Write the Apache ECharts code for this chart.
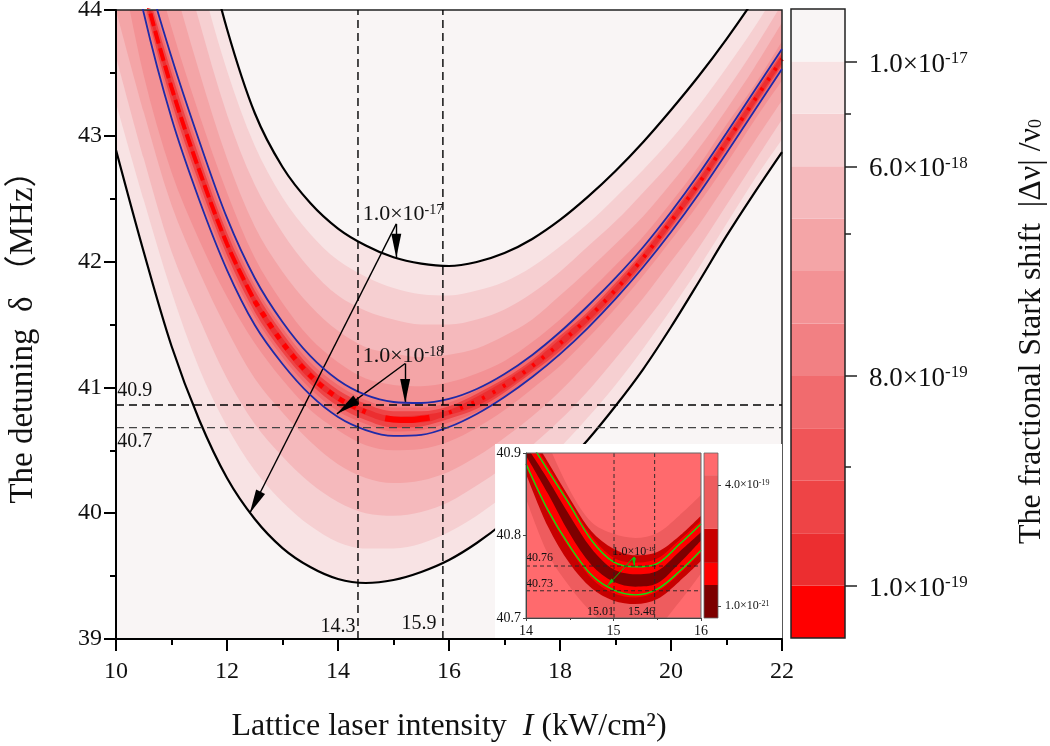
<!DOCTYPE html>
<html>
<head>
<meta charset="utf-8">
<style>html,body{margin:0;padding:0;background:#fff}#chart{width:1050px;height:746px}</style>
<script src="https://cdn.jsdelivr.net/npm/echarts@6/dist/echarts.min.js"></script>
</head>
<body>
<div id="chart"></div>
<script>
// main contour, values (lattice intensity vs detuning)
var intensity = [10,10.5,11,11.5,12,12.5,13,13.5,14,14.5,15,15.5,16,16.5,17,17.5,18,18.5,19,19.5,20,20.5,21,21.5,22];
var upper1 = [47.975,46.703,45.590,44.707,43.849,43.181,42.752,42.466,42.263,42.128,42.034,41.984,41.965,41.997,42.068,42.180,42.331,42.514,42.720,42.951,43.205,43.475,43.769,44.087,44.437];
var upper2 = [47.38,46.19,45.16,44.29,43.52,42.92,42.51,42.22,42.01,41.88,41.79,41.74,41.73,41.77,41.84,41.96,42.12,42.30,42.51,42.73,42.97,43.24,43.54,43.86,44.21];
var upper3 = [46.78,45.69,44.72,43.91,43.17,42.61,42.23,41.94,41.73,41.61,41.54,41.50,41.50,41.54,41.62,41.75,41.92,42.12,42.32,42.55,42.79,43.06,43.36,43.69,44.05];
var upper4 = [46.16,45.15,44.28,43.51,42.82,42.28,41.92,41.65,41.45,41.32,41.27,41.24,41.26,41.31,41.41,41.54,41.73,41.93,42.14,42.36,42.62,42.90,43.21,43.54,43.90];
var upper5 = [45.60,44.67,43.86,43.17,42.55,42.03,41.67,41.39,41.20,41.07,41.02,41.01,41.04,41.11,41.21,41.36,41.54,41.75,41.97,42.20,42.47,42.76,43.09,43.40,43.75];
var upperBlue = [45.431,44.390,43.626,42.959,42.347,41.870,41.520,41.250,41.059,40.940,40.884,40.876,40.908,40.987,41.106,41.258,41.440,41.647,41.870,42.116,42.394,42.696,43.022,43.356,43.690];
var innerUpA = [45.37,44.33,43.56,42.89,42.29,41.81,41.47,41.20,41.02,40.90,40.84,40.84,40.88,40.975,41.10,41.25,41.435,41.63,41.85,42.10,42.39,42.69,43.02,43.35,43.68];
var innerUpB = [45.32,44.28,43.50,42.83,42.23,41.77,41.43,41.16,40.98,40.87,40.81,40.81,40.85,40.95,41.07,41.22,41.41,41.60,41.83,42.08,42.37,42.67,43.00,43.33,43.66];
var innerUpD = [45.27,44.23,43.43,42.77,42.18,41.72,41.39,41.13,40.94,40.83,40.77,40.78,40.82,40.925,41.05,41.20,41.385,41.58,41.805,42.06,42.35,42.65,42.98,43.31,43.64];
var centerLine = [45.23,44.185,43.385,42.725,42.14,41.685,41.355,41.095,40.915,40.805,40.745,40.75,40.80,40.89,41.015,41.17,41.35,41.55,41.775,42.03,42.32,42.62,42.95,43.28,43.61];
var innerLowD = [45.19,44.14,43.34,42.68,42.10,41.65,41.32,41.06,40.89,40.78,40.72,40.72,40.78,40.855,40.98,41.14,41.315,41.52,41.745,42.00,42.29,42.59,42.92,43.25,43.58];
var innerLowB = [45.14,44.09,43.27,42.62,42.05,41.60,41.28,41.03,40.85,40.74,40.68,40.69,40.75,40.83,40.96,41.12,41.29,41.50,41.72,41.98,42.27,42.57,42.90,43.23,43.56];
var innerLowA = [45.09,44.04,43.21,42.56,41.99,41.56,41.24,40.99,40.81,40.71,40.65,40.66,40.72,40.805,40.93,41.09,41.265,41.47,41.70,41.96,42.25,42.55,42.88,43.21,43.54];
var lowerBlue = [45.033,43.976,43.141,42.490,41.933,41.496,41.186,40.940,40.765,40.661,40.614,40.622,40.685,40.789,40.924,41.083,41.265,41.472,41.703,41.957,42.235,42.537,42.863,43.197,43.531];
var lower5 = [44.56,43.48,42.71,42.17,41.72,41.35,41.06,40.82,40.66,40.54,40.50,40.51,40.57,40.68,40.82,40.99,41.17,41.39,41.63,41.89,42.17,42.46,42.78,43.12,43.44];
var lower4 = [44.00,43.19,42.45,41.92,41.46,41.07,40.80,40.57,40.39,40.28,40.24,40.26,40.33,40.45,40.60,40.77,40.97,41.20,41.45,41.71,42.00,42.29,42.62,42.95,43.28];
var lower3 = [43.63,42.82,42.08,41.55,41.07,40.71,40.45,40.24,40.09,40.00,39.98,40.01,40.09,40.22,40.37,40.54,40.74,40.97,41.23,41.50,41.79,42.11,42.45,42.79,43.13];
var lower2 = [43.26,42.49,41.76,41.15,40.69,40.34,40.09,39.90,39.77,39.72,39.72,39.76,39.85,39.98,40.14,40.31,40.52,40.76,41.02,41.31,41.62,41.95,42.30,42.65,42.97];
var lower1 = [42.887,42.076,41.329,40.741,40.280,39.954,39.723,39.572,39.477,39.445,39.469,39.533,39.628,39.763,39.930,40.129,40.343,40.582,40.852,41.146,41.480,41.838,42.204,42.545,42.871];
var blobX = [14.85,15,15.25,15.5,15.65];
var blobY = [40.755,40.745,40.74,40.75,40.76];

// inset contour
var insetX = [14,14.25,14.5,14.75,15,15.25,15.5,15.75,16];
var insetOuterUp = [40.968,40.911,40.855,40.816,40.802,40.797,40.803,40.824,40.849];
var insetDarkUp = [40.934,40.889,40.845,40.805,40.784,40.776,40.780,40.799,40.824];
var insetRedUp = [40.926,40.884,40.841,40.799,40.773,40.767,40.772,40.794,40.818];
var insetGreenUp = [40.921,40.879,40.837,40.794,40.768,40.762,40.766,40.789,40.814];
var insetCoreUp = [40.909,40.868,40.824,40.784,40.759,40.753,40.757,40.780,40.804];
var insetCoreLow = [40.897,40.851,40.802,40.764,40.744,40.738,40.742,40.766,40.794];
var insetGreenLow = [40.887,40.831,40.787,40.752,40.734,40.728,40.735,40.756,40.782];
var insetRedLow = [40.884,40.828,40.784,40.748,40.730,40.725,40.732,40.753,40.779];
var insetDarkLow = [40.875,40.811,40.766,40.736,40.721,40.717,40.723,40.744,40.769];
var insetOuterLow = [40.845,40.778,40.738,40.707,40.687,40.679,40.689,40.719,40.754];

// reference lines
var markI = [14.36,15.89];
var markDelta = [40.86,40.68];
var insetMarkI = [15.006,15.47];
var insetMarkDelta = [40.763,40.733];

// colour scales
var bandColors = ['#f9f5f5','#f8e3e4','#f6cfd1','#f5b9bc','#f4a5a7','#f39295','#f28083','#f16b6e','#f05558','#ee4446','#ec2e30','#ff0000'];
var barTicksMajor = [1,5,9,11];
var barTickNames = {1:'1.0×10|-19',5:'8.0×10|-19',9:'6.0×10|-18',11:'1.0×10|-17'};
var barTicksMinor = [3.26,7.71,10];
var insetBarColors = ['#7d0000','#ff0000','#c80000','#ee5c5e','#ff6a6d'];
var insetBarLevels = [0,1,1.67,2.7,4.33,5];
var insetBarTicks = [0.36,4.03];
var insetBarNames = {0.36:'1.0×10|-21',4.03:'4.0×10|-19'};

var FONT = 'Liberation Serif';
var BLACK = '#000';
var INK = '#111';
var SMOOTH = 0.33;

function pairs(xs, ys) {
	var out = [];
	for(var i = 0; i < xs.length; i++) {
		out.push([xs[i], ys[i]]);
	}
	return out;
}

function fill(values, color, z, xs, axis) {
	return {
		type: 'line',
		xAxisIndex: axis,
		yAxisIndex: axis,
		data: pairs(xs, values),
		smooth: SMOOTH,
		showSymbol: false,
		silent: true,
		z: z,
		lineStyle: {width: 0},
		areaStyle: {color: color, opacity: 1, origin: 'start'}
	};
}

function curve(data, color, width, z, axis, dash, smooth) {
	return {
		type: 'line',
		xAxisIndex: axis,
		yAxisIndex: axis,
		data: data,
		smooth: smooth === false ? false : SMOOTH,
		showSymbol: false,
		silent: true,
		z: z,
		lineStyle: {color: color, width: width, type: dash || 'solid'}
	};
}

function arrows(list, color, width, size, z, axis) {
	return {
		type: 'line',
		xAxisIndex: axis,
		yAxisIndex: axis,
		data: [],
		silent: true,
		z: z,
		markLine: {
			silent: true,
			z: z,
			animation: false,
			symbol: ['none', 'triangle'],
			symbolSize: size,
			symbolOffset: [[0, 0], [0, size[1] / 2]],
			label: {show: false},
			lineStyle: {color: color, width: width, type: 'solid'},
			data: list.map(function(a) {
				return [{coord: a[0]}, {coord: a[1]}];
			})
		}
	};
}

function sciText(s, cls) {
	var p = s.split('|');
	return '{' + cls + '|' + p[0] + '}{' + cls + 's|' + p[1] + '}';
}

function texts(list, z, axis) {
	return {
		type: 'scatter',
		xAxisIndex: axis,
		yAxisIndex: axis,
		symbolSize: 0,
		silent: true,
		z: z,
		itemStyle: {opacity: 1},
		data: list.map(function(t) {
			return {
				value: [t[0], t[1]],
				label: {
					show: true,
					position: 'inside',
					formatter: t[2],
					color: INK,
					fontFamily: FONT,
					rich: {
						n: {fontSize: 20, fontFamily: FONT, color: INK},
						a: {fontSize: 22, fontFamily: FONT, color: INK},
						as: {fontSize: 14, fontFamily: FONT, color: INK, padding: [0, 0, 9, 0]},
						b: {fontSize: 12, fontFamily: FONT, color: INK},
						bs: {fontSize: 7, fontFamily: FONT, color: INK, padding: [0, 0, 5, 0]}
					}
				}
			};
		})
	};
}

var series = [];

// painter order: upper curves going in, then lower curves coming back out
series.push(fill([44, 44], bandColors[0], 2, [10, 22], 0));
[[upper1, 1], [upper2, 2], [upper3, 3], [upper4, 4], [upper5, 5], [upperBlue, 6], [innerUpA, 7], [innerUpB, 9], [innerUpD, 10],
	[innerLowD, 9], [innerLowB, 7], [innerLowA, 6], [lowerBlue, 5], [lower5, 4], [lower4, 3], [lower3, 2], [lower2, 1], [lower1, 0]
].forEach(function(b) {
	series.push(fill(b[0], bandColors[b[1]], 2, intensity, 0));
});

// red ridge along the minimum
series.push(curve(pairs(intensity.slice(0, 6), centerLine.slice(0, 6)), '#ff0000', 4, 2, 0, [13, 5]));
series.push(curve(pairs(intensity.slice(5, 10), centerLine.slice(5, 10)), '#ff0000', 5, 2, 0, [6, 7]));
series.push(curve(pairs(blobX, blobY), '#ff0000', 6, 2, 0));
series.push(curve(pairs(intensity.slice(12), centerLine.slice(12)), '#ff0000', 4, 2, 0, [3, 9]));

series.push(curve(pairs(intensity, upper1), BLACK, 2.2, 3, 0));
series.push(curve(pairs(intensity, lower1), BLACK, 2.2, 3, 0));
series.push(curve(pairs(intensity, upperBlue), '#1f2aa8', 1.8, 3, 0));
series.push(curve(pairs(intensity, lowerBlue), '#1f2aa8', 1.8, 3, 0));

markI.forEach(function(v) {
	series.push(curve([[v, 39], [v, 44]], BLACK, 1.4, 3, 0, [8, 5], false));
});
series.push(curve([[10, markDelta[0]], [22, markDelta[0]]], BLACK, 1.4, 3, 0, [8, 5], false));
series.push(curve([[10, markDelta[1]], [22, markDelta[1]]], '#444', 1.4, 3, 0, [8, 5], false));

series.push(arrows([
	[[15.05, 42.30], [15.05, 42.03]],
	[[15.05, 42.30], [12.41, 40.00]],
	[[15.21, 41.19], [15.21, 40.876]],
	[[15.21, 41.19], [13.98, 40.79]]
], BLACK, 1.4, [10, 24], 3, 0));

series.push(texts([
	[10.34, 40.97, '{n|40.9}'],
	[10.34, 40.57, '{n|40.7}'],
	[14.0, 39.10, '{n|14.3}'],
	[15.46, 39.12, '{n|15.9}'],
	[15.17, 42.375, sciText('1.0×10|-17', 'a')],
	[15.17, 41.245, sciText('1.0×10|-18', 'a')]
], 3, 0));

// white panel behind the inset
series.push(fill([40.55, 40.55], '#ffffff', 4, [16.83, 22], 0));

// inset
series.push(fill([40.9, 40.9], insetBarColors[4], 5, [14, 16], 1));
[[insetOuterUp, 3], [insetDarkUp, 2], [insetRedUp, 1], [insetCoreUp, 0], [insetCoreLow, 1], [insetRedLow, 2], [insetDarkLow, 3], [insetOuterLow, 4]].forEach(function(b) {
	series.push(fill(b[0], insetBarColors[b[1]], 5, insetX, 1));
});
series.push(curve(pairs(insetX, insetGreenUp), '#10e010', 1.4, 6, 1));
series.push(curve(pairs(insetX, insetGreenLow), '#10e010', 1.4, 6, 1));
insetMarkI.forEach(function(v) {
	series.push(curve([[v, 40.7], [v, 40.9]], '#222', 0.9, 6, 1, [4, 3], false));
});
insetMarkDelta.forEach(function(v) {
	series.push(curve([[14, v], [16, v]], '#222', 0.9, 6, 1, [4, 3], false));
});
series.push(arrows([
	[[15.234, 40.774], [15.234, 40.763]],
	[[15.234, 40.774], [14.93, 40.739]]
], '#10c010', 1, [4, 8], 6, 1));
series.push(texts([
	[14.155, 40.773, '{b|40.76}'],
	[14.155, 40.741, '{b|40.73}'],
	[14.85, 40.707, '{b|15.01}'],
	[15.32, 40.707, '{b|15.46}'],
	[15.234, 40.78, sciText('1.0×10|-19', 'b')]
], 6, 1));

// colour bars
bandColors.slice().reverse().forEach(function(c) {
	series.push({
		type: 'bar',
		xAxisIndex: 2,
		yAxisIndex: 2,
		stack: 'main',
		barWidth: '100%',
		silent: true,
		itemStyle: {color: c},
		data: [1]
	});
});
insetBarColors.forEach(function(c, i) {
	series.push({
		type: 'bar',
		xAxisIndex: 3,
		yAxisIndex: 4,
		stack: 'inset',
		barWidth: '100%',
		silent: true,
		z: 5,
		itemStyle: {color: c},
		data: [insetBarLevels[i + 1] - insetBarLevels[i]]
	});
});

var mainAxisLine = {lineStyle: {color: BLACK, width: 2}};
var mainTick = {length: 12, lineStyle: {color: BLACK, width: 2}};
var mainMinor = {show: true, splitNumber: 2, length: 6, lineStyle: {color: BLACK, width: 2}};

var chart = echarts.init(document.getElementById('chart'));
chart.setOption({
	animation: false,
	backgroundColor: '#fff',
	grid: [
		{left: 116, top: 10, width: 666, height: 629, outerBoundsMode: 'none', show: true, z: 3, backgroundColor: 'transparent', borderColor: '#222', borderWidth: 1.5},
		{left: 526, top: 453, width: 175, height: 165, outerBoundsMode: 'none', show: true, z: 7, backgroundColor: 'transparent', borderColor: '#666', borderWidth: 1},
		{left: 791, top: 9, width: 54, height: 629, outerBoundsMode: 'none', show: true, z: 3, backgroundColor: 'transparent', borderColor: '#222', borderWidth: 1.5},
		{left: 704, top: 453, width: 14, height: 165, outerBoundsMode: 'none', show: true, z: 7, backgroundColor: 'transparent', borderColor: '#666', borderWidth: 0.8}
	],
	xAxis: [{
		type: 'value', gridIndex: 0, min: 10, max: 22, interval: 2, z: 4,
		splitLine: {show: false}, axisLine: mainAxisLine, axisTick: mainTick, minorTick: mainMinor,
		axisLabel: {fontFamily: FONT, fontSize: 24, color: INK, margin: 21},
		name: '{t|Lattice laser intensity  }{i|I}{t| (kW/cm²)}',
		nameLocation: 'middle', nameGap: 72,
		nameTextStyle: {rich: {
			t: {fontFamily: FONT, fontSize: 32, color: INK},
			i: {fontFamily: FONT, fontSize: 32, fontStyle: 'italic', color: INK}
		}}
	}, {
		type: 'value', gridIndex: 1, min: 14, max: 16, interval: 1, z: 8,
		splitLine: {show: false},
		axisLine: {lineStyle: {color: '#444', width: 1}},
		axisTick: {length: 3, lineStyle: {color: '#444'}},
		minorTick: {show: true, splitNumber: 2, length: 2, lineStyle: {color: '#444'}},
		axisLabel: {fontFamily: FONT, fontSize: 14, color: INK, margin: 6}
	}, {
		type: 'category', gridIndex: 2, data: ['scale'], show: false
	}, {
		type: 'category', gridIndex: 3, data: ['scale'], show: false
	}],
	yAxis: [{
		type: 'value', gridIndex: 0, min: 39, max: 44, interval: 1, z: 4,
		splitLine: {show: false}, axisLine: mainAxisLine, axisTick: mainTick, minorTick: mainMinor,
		axisLabel: {fontFamily: FONT, fontSize: 24, color: INK, margin: 14},
		name: 'The detuning  δ （MHz）',
		nameLocation: 'middle', nameGap: 76,
		nameTextStyle: {fontFamily: [FONT, 'Noto Sans CJK SC'].join(','), fontSize: 33, color: INK, padding: [0, 9, 0, 0]}
	}, {
		type: 'value', gridIndex: 1, min: 40.7, max: 40.9, interval: 0.1, z: 8,
		splitLine: {show: false},
		axisLine: {lineStyle: {color: '#444', width: 1}},
		axisTick: {length: 3, lineStyle: {color: '#444'}},
		axisLabel: {fontFamily: FONT, fontSize: 14, color: INK, margin: 5, formatter: function(v) { return v.toFixed(1); }}
	}, {
		type: 'value', gridIndex: 2, min: 0, max: 12, position: 'right', z: 4,
		splitLine: {show: false},
		axisLine: {show: false},
		axisTick: {show: true, length: 12, customValues: barTicksMajor, lineStyle: {color: '#222', width: 1.5}},
		axisLabel: {
			show: true, customValues: barTicksMajor, margin: 24, align: 'left', padding: [6, 0, 0, 0],
			formatter: function(v) { return sciText(barTickNames[v], 'c'); },
			rich: {
				c: {fontFamily: FONT, fontSize: 27, color: INK},
				cs: {fontFamily: FONT, fontSize: 17, color: INK, padding: [0, 0, 12, 0]}
			}
		},
		name: '{t|The fractional Stark shift  |Δν| /ν}{u|0}',
		nameLocation: 'middle', nameGap: 171, nameRotate: 90,
		nameTextStyle: {padding: [0, 16, 0, 0], rich: {
			t: {fontFamily: FONT, fontSize: 32, color: INK},
			u: {fontFamily: FONT, fontSize: 18, color: INK, padding: [8, 0, 0, 0]}
		}}
	}, {
		type: 'value', gridIndex: 2, min: 0, max: 12, position: 'right', z: 4,
		splitLine: {show: false},
		axisLine: {show: false},
		axisTick: {show: true, length: 6, customValues: barTicksMinor, lineStyle: {color: '#222', width: 1.5}},
		axisLabel: {show: false}
	}, {
		type: 'value', gridIndex: 3, min: 0, max: 5, position: 'right', z: 8,
		splitLine: {show: false},
		axisLine: {show: false},
		axisTick: {show: true, length: 3, customValues: insetBarTicks, lineStyle: {color: '#444'}},
		axisLabel: {
			show: true, customValues: insetBarTicks, margin: 7, align: 'left',
			formatter: function(v) { return sciText(insetBarNames[v], 'd'); },
			rich: {
				d: {fontFamily: FONT, fontSize: 12, color: INK},
				ds: {fontFamily: FONT, fontSize: 8, color: INK, padding: [0, 0, 5, 0]}
			}
		}
	}],
	series: series
});
</script>
</body>
</html>
